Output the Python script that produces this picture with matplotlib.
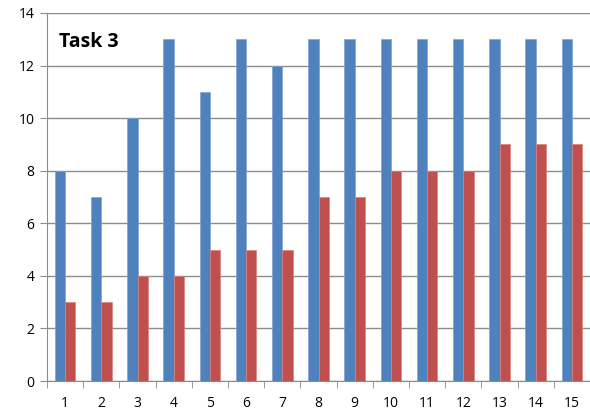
import matplotlib
matplotlib.use('Agg')
import matplotlib.pyplot as plt
import numpy as np

# chart data
categories = [str(i) for i in range(1, 16)]
blue_vals = [8, 7, 10, 13, 11, 13, 12, 13, 13, 13, 13, 13, 13, 13, 13]
red_vals = [3, 3, 4, 4, 5, 5, 5, 7, 7, 8, 8, 8, 9, 9, 9]

plt.rcParams['font.family'] = ['Open Sans', 'DejaVu Sans']

fig = plt.figure(figsize=(5.9, 4.18), dpi=100)
ax = fig.add_axes([0.0797, 0.0885, 0.9203, 0.8805])

x = np.arange(len(categories))
w = 0.285
ax.bar(x - w / 2, blue_vals, w, color='#4F81BD', edgecolor='#7FA3D1', linewidth=0.5, zorder=3)
ax.bar(x + w / 2, red_vals, w, color='#C0504D', edgecolor='#D88280', linewidth=0.5, zorder=3)

ax.set_xlim(-0.5, len(categories) - 0.5)
ax.set_ylim(0, 14)
ax.set_yticks(range(0, 15, 2))
ax.yaxis.grid(True, color='#8C8C8C', linewidth=1.0, zorder=0)

# category labels centred, tick marks at the boundaries
ax.set_xticks(x)
ax.set_xticklabels(categories)
ax.set_xticks(np.arange(-0.5, len(categories), 1), minor=True)
ax.tick_params(axis='x', which='major', length=0, pad=11, labelsize=10)
ax.tick_params(axis='x', which='minor', length=5, color='#8C8C8C')
ax.tick_params(axis='y', length=5, color='#8C8C8C', labelsize=10, pad=4)

for s in ['top', 'right']:
    ax.spines[s].set_visible(False)
for s in ['left', 'bottom']:
    ax.spines[s].set_color('#8C8C8C')

ax.text(0.022, 0.92, 'Task 3', transform=ax.transAxes, fontsize=14,
        fontweight='bold', va='center', ha='left')

fig.savefig('out.png', dpi=100)
